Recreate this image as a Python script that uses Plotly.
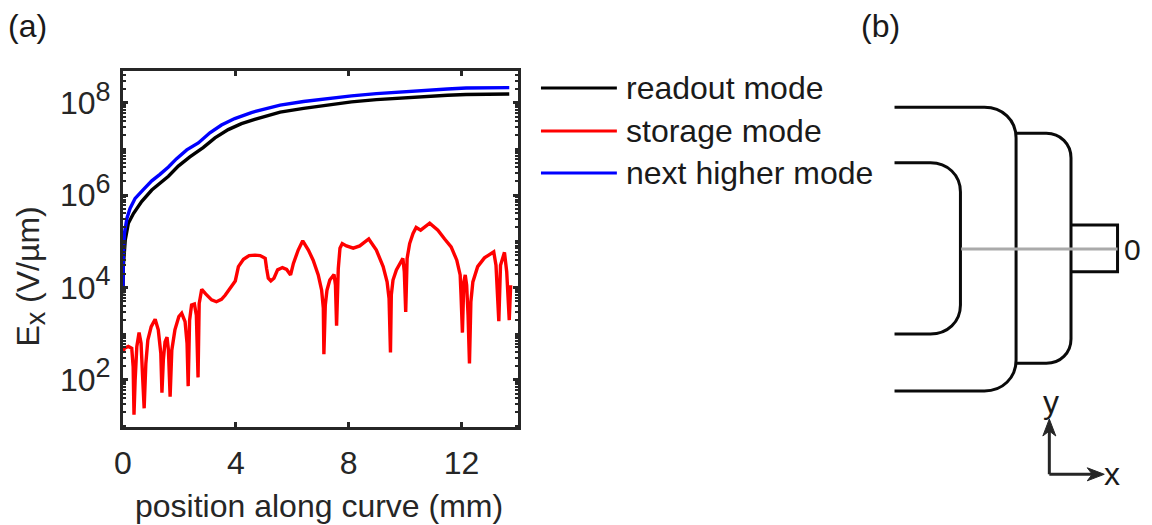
import plotly.graph_objects as go

FONT = "Liberation Sans"
INK = "#262626"

pos_blue = [0, 0.01, 0.05, 0.14, 0.25, 0.43, 0.72, 1.02, 1.31, 1.61, 1.90, 2.26, 2.67, 3.08, 3.49, 3.96, 4.55, 5.14, 5.57, 6.4, 7.21, 8.1, 8.98, 9.9, 10.75, 11.5, 12.16, 12.9, 13.69]
log_blue = [4.01, 4.66, 5.17, 5.50, 5.71, 5.93, 6.12, 6.31, 6.45, 6.61, 6.79, 6.98, 7.13, 7.35, 7.52, 7.66, 7.79, 7.88, 7.95, 8.03, 8.09, 8.15, 8.20, 8.24, 8.27, 8.30, 8.32, 8.325, 8.33]
pos_black = [0, 0.01, 0.08, 0.19, 0.37, 0.66, 1.02, 1.31, 1.61, 1.96, 2.37, 2.84, 3.26, 3.73, 4.20, 4.67, 5.14, 5.57, 6.4, 7.21, 8.1, 8.98, 9.9, 10.75, 11.5, 12.16, 12.9, 13.69]
log_black = [3.87, 4.45, 5.03, 5.39, 5.60, 5.86, 6.11, 6.25, 6.41, 6.63, 6.83, 7.03, 7.24, 7.42, 7.55, 7.64, 7.72, 7.80, 7.88, 7.95, 8.02, 8.07, 8.11, 8.14, 8.165, 8.18, 8.19, 8.19]
pos_red = [0, 0.05, 0.19, 0.31, 0.36, 0.39, 0.43, 0.49, 0.57, 0.64, 0.70, 0.75, 0.81, 0.88, 1.00, 1.14, 1.25, 1.34, 1.38, 1.43,
           1.49, 1.56, 1.61, 1.67, 1.73, 1.84, 1.98, 2.08, 2.20, 2.27, 2.31, 2.36, 2.43, 2.53, 2.60, 2.66, 2.70, 2.79, 2.93, 3.14,
           3.31, 3.49, 3.62, 3.80, 3.98, 4.09, 4.27, 4.47, 4.68, 4.86, 5.04, 5.09, 5.15, 5.24, 5.35, 5.48, 5.65, 5.80, 5.94, 6.04,
           6.21, 6.37, 6.57, 6.74, 6.92, 7.04, 7.10, 7.12, 7.17, 7.23, 7.33, 7.48, 7.53, 7.57, 7.63, 7.69, 7.77, 7.92, 8.16, 8.39,
           8.71, 8.98, 9.22, 9.36, 9.43, 9.48, 9.51, 9.57, 9.69, 9.92, 9.97, 10.02, 10.07, 10.16, 10.28, 10.39, 10.55, 10.87, 11.16, 11.40,
           11.63, 11.83, 11.95, 11.98, 12.03, 12.08, 12.13, 12.18, 12.23, 12.28, 12.33, 12.40, 12.57, 12.81, 13.14, 13.22, 13.32, 13.38, 13.52, 13.60,
           13.69, 13.74]
log_red = [2.59, 2.68, 2.72, 2.68, 2.28, 1.24, 1.99, 2.72, 3.02, 2.79, 2.00, 1.38, 2.35, 2.86, 3.15, 3.31, 3.08, 2.57, 1.72, 2.43,
           2.82, 2.92, 2.64, 1.63, 2.64, 3.08, 3.37, 3.44, 3.26, 2.79, 1.86, 3.29, 3.62, 3.64, 3.40, 2.05, 3.65, 3.96, 3.86, 3.73,
           3.69, 3.74, 3.83, 3.98, 4.14, 4.45, 4.61, 4.69, 4.70, 4.69, 4.63, 4.41, 4.20, 4.14, 4.20, 4.38, 4.43, 4.39, 4.27, 4.52,
           4.81, 5.01, 4.81, 4.59, 4.27, 3.94, 3.55, 2.55, 3.62, 3.94, 4.16, 4.28, 4.05, 3.17, 4.41, 4.85, 4.95, 4.90, 4.85, 4.90,
           5.05, 4.81, 4.45, 4.12, 3.76, 2.59, 3.84, 4.16, 4.38, 4.63, 4.34, 3.47, 4.63, 4.95, 5.17, 5.30, 5.24, 5.39, 5.24, 5.05,
           4.88, 4.59, 4.27, 3.84, 3.02, 4.12, 4.27, 4.05, 3.40, 2.35, 3.69, 4.12, 4.45, 4.64, 4.77, 4.48, 3.27, 4.48, 4.76, 4.34,
           3.29, 4.05]

x_ticks = [0, 4, 8, 12]
y_ticks = [1e2, 1e4, 1e6, 1e8]
y_exponents = ["2", "4", "6", "8"]
y_minor = [m * 10 ** e for e in range(1, 9) for m in (1, 2, 3, 4, 5, 6, 7, 8, 9)]
legend_names = ["readout mode", "storage mode", "next higher mode"]
legend_colors = ["black", "#ff0000", "#0000ff"]
y_labels = [f'10<sup><span style="font-size:27px">{e}</span></sup>' for e in y_exponents]


def pw(vals):
    return [10 ** v for v in vals]


fig = go.Figure()
for xs, ys, c in [(pos_black, log_black, "black"), (pos_red, log_red, "#ff0000"), (pos_blue, log_blue, "#0000ff")]:
    fig.add_trace(go.Scatter(x=xs, y=pw(ys), mode="lines", line=dict(color=c, width=3.4), showlegend=False))

W, H = 1152, 525
OFF = 8  # page body margin
L, R, T, B = 122.5, 518, 71, 427


def PX(p):
    return (p - L) / (R - L)


def PY(p):
    return (B - p) / (B - T)


def path(*segs):
    out = []
    for cmd, *pts in segs:
        out.append(cmd + " ".join(f"{PX(a):.5f},{PY(b):.5f}" for a, b in pts))
    return " ".join(out)


axis_common = dict(showgrid=False, zeroline=False, showline=True, linecolor=INK, linewidth=3, automargin=False,
                   mirror="ticks", ticks="inside", tickcolor=INK, tickwidth=3,
                   tickfont=dict(family=FONT, size=32, color=INK))
fig.update_layout(
    width=W - OFF, height=H - OFF, margin=dict(l=L - OFF, r=W - R, t=T - OFF, b=H - B, pad=0),
    plot_bgcolor="white", paper_bgcolor="white", showlegend=False,
    xaxis=dict(range=[0, 14], tickvals=x_ticks, ticklen=5, ticklabelstandoff=6, **axis_common),
    yaxis=dict(type="log", range=[0.975, 8.69], tickvals=y_ticks, ticktext=y_labels, ticklen=5, ticklabelstandoff=3,
               minor=dict(tickvals=y_minor, ticks="inside", ticklen=3, tickcolor=INK, tickwidth=2),
               **axis_common),
)

ref = dict(xref="paper", yref="paper", layer="above")
outlines = [
    path(("M", (895, 107.3)), ("L", (985, 107.3)), ("C", (1003, 107.3), (1016.7, 120), (1016.7, 138)), ("L", (1016.7, 360)),
         ("C", (1016.7, 378), (1003, 391), (985, 391)), ("L", (895, 391))),
    path(("M", (1016.7, 133.3)), ("L", (1047, 133.3)), ("C", (1061, 133.3), (1071.7, 144), (1071.7, 158)), ("L", (1071.7, 339)),
         ("C", (1071.7, 353), (1061, 363.3), (1047, 363.3)), ("L", (1016.7, 363.3))),
    path(("M", (895, 162.7)), ("L", (931, 162.7)), ("C", (948, 162.7), (961, 175), (961, 192)), ("L", (961, 305)),
         ("C", (961, 322), (948, 334), (931, 334)), ("L", (895, 334))),
    path(("M", (1071.7, 225)), ("L", (1118.3, 225)), ("L", (1118.3, 271.7)), ("L", (1071.7, 271.7))),
]
for p in outlines:
    fig.add_shape(type="path", path=p, line=dict(color="#0a0a0a", width=3), **ref)
fig.add_shape(type="line", x0=PX(961.7), x1=PX(1118.3), y0=PY(249), y1=PY(249), line=dict(color="#aaaaaa", width=3), **ref)
# axes arrows
fig.add_shape(type="path", path=path(("M", (1050, 474.3)), ("L", (1050, 428)), ("M", (1050, 474.3)), ("L", (1097, 474.3))),
              line=dict(color=INK, width=3), **ref)
fig.add_shape(type="path", path=path(("M", (1050, 419)), ("L", (1043.5, 436)), ("L", (1050, 431)), ("L", (1056.5, 436))) + " Z",
              fillcolor=INK, line=dict(color=INK, width=1), **ref)
fig.add_shape(type="path", path=path(("M", (1105, 474.3)), ("L", (1088, 467.8)), ("L", (1093, 474.3)), ("L", (1088, 480.8))) + " Z",
              fillcolor=INK, line=dict(color=INK, width=1), **ref)

# legend
for ly, name, col in zip([88, 131, 173], legend_names, legend_colors):
    fig.add_shape(type="line", x0=PX(541), x1=PX(617), y0=PY(ly), y1=PY(ly), line=dict(color=col, width=3), **ref)
    fig.add_annotation(x=PX(627), y=PY(ly), xref="paper", yref="paper", text=name, showarrow=False, xanchor="left", yanchor="middle",
                       xshift=-3, font=dict(family=FONT, size=32, color="#1a1a1a"))

for x, y, txt, sz in [(27, 26, "(a)", 32), (881, 26, "(b)", 32), (1133, 249, "0", 30), (1052, 402, "y", 32), (1113, 474, "x", 32)]:
    fig.add_annotation(x=PX(x), y=PY(y), xref="paper", yref="paper", text=txt, showarrow=False, xanchor="center", yanchor="middle",
                       font=dict(family=FONT, size=sz, color="#1a1a1a"))

# axis titles
fig.add_annotation(x=PX(30), y=PY(277), xref="paper", yref="paper", text='E<sub><span style="font-size:27px">x</span></sub> (V/µm)',
                   textangle=-90, showarrow=False, xanchor="center", yanchor="middle",
                   font=dict(family=FONT, size=32, color=INK))
fig.add_annotation(x=PX(319), y=PY(506), xref="paper", yref="paper", text="position along curve (mm)",
                   showarrow=False, xanchor="center", yanchor="middle", font=dict(family=FONT, size=32, color=INK))

fig.write_html("out.html")
